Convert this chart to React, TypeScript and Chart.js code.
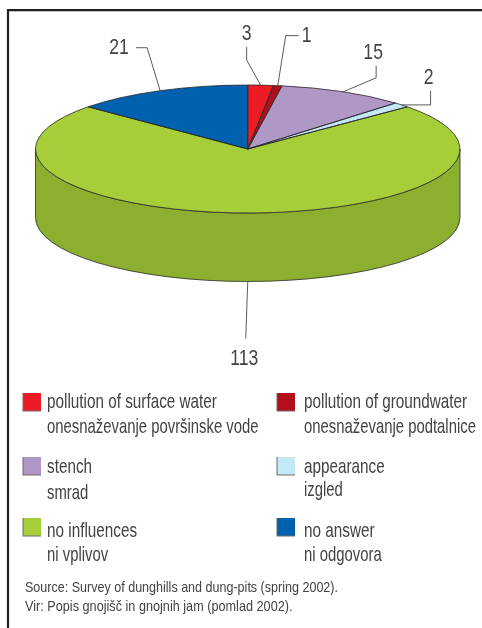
import React, { useEffect, useRef } from "react";
import { Chart, registerables } from "chart.js";

Chart.register(...registerables);

const categories = [
  "pollution of surface water",
  "pollution of groundwater",
  "stench",
  "appearance",
  "no influences",
  "no answer",
];
const categoriesSl = [
  "onesnaževanje površinske vode",
  "onesnaževanje podtalnice",
  "smrad",
  "izgled",
  "ni vplivov",
  "ni odgovora",
];
const values = [3, 1, 15, 2, 113, 21];
const colors = ["#ed1c24", "#b20f1a", "#af97c6", "#c5e8f7", "#a6ce39", "#0062ae"];
const sourceLines = [
  "Source: Survey of dunghills and dung-pits (spring 2002).",
  "Vir: Popis gnojišč in gnojnih jam (pomlad 2002).",
];

const CY = 149;
const RY = 64;
const DEPTH = 68.5;
const INK = "#2a2829";
const TEXT = "#444243";
const FONT = '"Liberation Sans Narrow", "Liberation Sans"';

// leader routes, relative to each slice's rim anchor: elbow, end, label centre
const leaders = [
  { elbow: [-14, -25], end: [-14, -38], label: [-14, -51] },
  { elbow: [8, -50], end: [21, -50], label: [29, -50] },
  { elbow: [33, -14], end: [33, -26], label: [30, -39] },
  { elbow: [29, 0], end: [29, -14], label: [27, -27] },
  { elbow: [-1, 28], end: [-2, 57], label: [-3.5, 77] },
  { elbow: [-13, -43], end: [-24, -43], label: [-41, -43] },
];
const legendRows = [393, 393, 457, 457, 518, 518];
const legendLineA = [402, 402, 467, 467, 531, 531];
const legendLineB = [427, 427, 493, 490, 555, 555];

function darken(hex: string, k: number) {
  const n = parseInt(hex.slice(1), 16);
  const c = [(n >> 16) & 255, (n >> 8) & 255, n & 255].map((v) => Math.round(v * k));
  return `rgb(${c[0]},${c[1]},${c[2]})`;
}

function text(
  ctx: CanvasRenderingContext2D,
  s: string,
  x: number,
  y: number,
  size: number,
  narrow: number,
  align: "left" | "center",
) {
  ctx.save();
  ctx.font = `${size}px ${FONT}`;
  ctx.fillStyle = TEXT;
  ctx.textBaseline = "middle";
  ctx.textAlign = align;
  ctx.translate(x, y);
  ctx.scale(narrow, 1);
  ctx.fillText(s, 0, 0);
  ctx.restore();
}

const pie3d = {
  id: "pie3d",
  beforeDatasetsDraw(chart: any) {
    const ctx: CanvasRenderingContext2D = chart.ctx;
    const arcs = chart.getDatasetMeta(0).data;
    const first = arcs[0];
    const k = RY / first.outerRadius;
    const toScreen = () => {
      ctx.translate(0, CY);
      ctx.scale(1, k);
      ctx.translate(0, -first.y);
    };
    // frame
    ctx.save();
    ctx.strokeStyle = "#231f20";
    ctx.lineWidth = 2.2;
    ctx.beginPath();
    ctx.moveTo(8, 628);
    ctx.lineTo(8, 10.2);
    ctx.lineTo(482, 10.2);
    ctx.stroke();
    ctx.restore();
    // side wall of the cylinder
    arcs.forEach((a: any, i: number) => {
      const a0 = Math.max(a.startAngle, 0);
      const a1 = Math.min(a.endAngle, Math.PI);
      if (a1 <= a0) return;
      ctx.save();
      toScreen();
      ctx.beginPath();
      ctx.arc(a.x, a.y, a.outerRadius, a0, a1);
      ctx.arc(a.x, a.y + DEPTH / k, a.outerRadius, a1, a0, true);
      ctx.closePath();
      ctx.restore();
      ctx.fillStyle = darken(colors[i], 0.85);
      ctx.fill();
      ctx.strokeStyle = INK;
      ctx.lineWidth = 0.8;
      ctx.stroke();
    });
    ctx.save();
    toScreen();
  },
  afterDatasetsDraw(chart: any) {
    const ctx: CanvasRenderingContext2D = chart.ctx;
    ctx.restore();
    const arcs = chart.getDatasetMeta(0).data;
    const k = RY / arcs[0].outerRadius;
    // slice outlines, with an even pen
    arcs.forEach((a: any) => {
      ctx.save();
      ctx.translate(0, CY);
      ctx.scale(1, k);
      ctx.translate(0, -a.y);
      ctx.beginPath();
      ctx.moveTo(a.x, a.y);
      ctx.arc(a.x, a.y, a.outerRadius, a.startAngle, a.endAngle);
      ctx.closePath();
      ctx.restore();
      ctx.strokeStyle = INK;
      ctx.lineWidth = 0.8;
      ctx.stroke();
    });
    // leaders and value labels
    arcs.forEach((a: any, i: number) => {
      const mid = (a.startAngle + a.endAngle) / 2;
      const sin = Math.sin(mid);
      const ax = a.x + a.outerRadius * Math.cos(mid);
      const ay = CY + RY * sin + (sin > 0 ? DEPTH : 0);
      const l = leaders[i];
      ctx.strokeStyle = "#333132";
      ctx.lineWidth = 0.8;
      ctx.beginPath();
      ctx.moveTo(ax, ay);
      ctx.lineTo(ax + l.elbow[0], ay + l.elbow[1]);
      ctx.lineTo(ax + l.end[0], ay + l.end[1]);
      ctx.stroke();
      text(ctx, String(values[i]), ax + l.label[0], ay + l.label[1], 22, 0.8, "center");
    });
    // legend
    categories.forEach((c, i) => {
      const left = i % 2 === 0;
      const sx = left ? 23 : 277;
      const tx = left ? 47 : 304;
      ctx.fillStyle = "#6d6b6c";
      ctx.fillRect(sx - 0.5, legendRows[i], 18.5, 18.5);
      ctx.fillStyle = colors[i];
      ctx.fillRect(sx + 0.5, legendRows[i], 17.5, 17.5);
      text(ctx, c, tx, legendLineA[i], 21, 0.728, "left");
      text(ctx, categoriesSl[i], tx, legendLineB[i], 21, 0.708, "left");
    });
    sourceLines.forEach((s, i) => text(ctx, s, 25, 588 + i * 19, 15, i === 0 ? 0.836 : 0.845, "left"));
  },
};

export default function App() {
  const ref = useRef<HTMLCanvasElement>(null);
  useEffect(() => {
    const chart = new Chart(ref.current as HTMLCanvasElement, {
      type: "pie",
      data: {
        labels: categories,
        datasets: [
          { data: values, backgroundColor: colors, borderWidth: 0, clip: false } as any,
        ],
      },
      options: {
        responsive: false,
        animation: false,
        layout: { padding: { left: 35.5, right: 22, top: 0, bottom: 628 - 424.5 } },
        plugins: { legend: { display: false }, tooltip: { enabled: false } },
      },
      plugins: [pie3d],
    });
    return () => chart.destroy();
  }, []);
  return (
    <canvas
      ref={ref}
      width={482}
      height={628}
      style={{ position: "absolute", left: 0, top: 0, display: "block", width: 482, height: 628 }}
    />
  );
}
